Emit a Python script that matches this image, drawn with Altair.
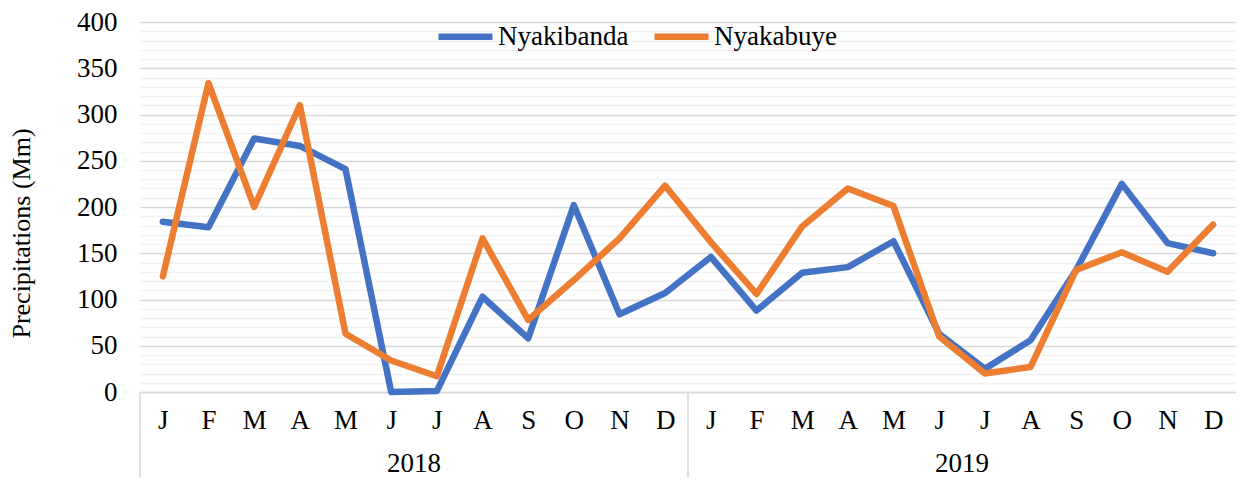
import json
import altair as alt
import pandas as pd

MONTHS = ["J", "F", "M", "A", "M", "J", "J", "A", "S", "O", "N", "D"]
YEARS = ["2018", "2019"]
SERIES = ["Nyakibanda", "Nyakabuye"]
COLORS = ["#4472C4", "#ED7D31"]

nyakibanda = [184, 178, 274, 266, 241, 0, 1, 103, 58, 202, 84, 107,
              146, 88, 129, 135, 163, 63, 25, 56, 132, 225, 161, 150]
nyakabuye = [125, 334, 200, 310, 63, 34, 17, 166, 78, 121, 166, 223,
             162, 106, 179, 220, 201, 60, 20, 27, 132, 151, 130, 181]

rows = []
for s, vals in zip(SERIES, [nyakibanda, nyakabuye]):
    for i, v in enumerate(vals):
        rows.append({"idx": i, "month": MONTHS[i % 12], "year": YEARS[i // 12],
                     "station": s, "value": v})
df = pd.DataFrame(rows)

month_of_idx = [MONTHS[i % 12] for i in range(len(nyakibanda))]
years_df = (df[df.station == SERIES[0]].groupby("year")["idx"]
            .agg(["min", "mean"]).reset_index())
years_df["left"] = years_df["min"] - 0.5

FONT = "Liberation Serif"
FS = 27
W, H = 1096, 370
PAD = {"left": 132, "top": 14, "right": 0, "bottom": 86}

xscale = alt.Scale(domain=[-0.5, len(nyakibanda) - 0.5], nice=False, zero=False)
yscale = alt.Scale(domain=[0, 400], nice=False)

lines = alt.Chart(df).mark_line(strokeWidth=6.5, strokeCap="round", strokeJoin="round").encode(
    x=alt.X("idx:Q", scale=xscale, title=None,
            axis=alt.Axis(values=list(range(len(nyakibanda))),
                          labelExpr=f"{json.dumps(month_of_idx)}[datum.value]",
                          grid=False, ticks=False, domain=True,
                          domainColor="#D9D9D9", domainWidth=1.5,
                          labelPadding=15, labelOverlap=False, labelFlush=False)),
    y=alt.Y("value:Q", scale=yscale,
            axis=alt.Axis(values=list(range(0, 401, 10)),
                          labelExpr="datum.value % 50 === 0 ? datum.label : ''",
                          gridColor=alt.condition("datum.value % 50 === 0",
                                                  alt.value("#D9D9D9"), alt.value("#F2F2F2")),
                          gridWidth=1.5, ticks=False, domain=False,
                          labelPadding=23, labelOverlap=False, labelFlush=False,
                          title="Precipitations (Mm)", titlePadding=42, titleY=211)),
    color=alt.Color("station:N", scale=alt.Scale(domain=SERIES, range=COLORS),
                    legend=alt.Legend(title=None, orient="none", direction="horizontal",
                                      legendX=295, legendY=-16, symbolType="stroke",
                                      symbolStrokeWidth=6.5, symbolSize=2916,
                                      labelOffset=2, columnPadding=12, padding=0)),
    order=alt.Order("idx:Q"),
)

seps = alt.Chart(years_df).mark_rule(color="#D9D9D9", strokeWidth=1.5).encode(
    x=alt.X("left:Q", scale=xscale),
    y=alt.value(H),
    y2=alt.value(H + 86),
)

year_text = alt.Chart(years_df).mark_text(font=FONT, fontSize=FS, color="#000000",
                                          baseline="middle").encode(
    x=alt.X("mean:Q", scale=xscale),
    y=alt.value(H + 72),
    text="year:N",
)

chart = alt.layer(lines, seps, year_text).properties(
    width=W, height=H, background="white",
    autosize=alt.AutoSizeParams(type="none"), padding=PAD,
).configure(font=FONT).configure_view(stroke=None).configure_axis(
    labelFont=FONT, labelFontSize=FS, labelColor="#000000",
    titleFont=FONT, titleFontSize=26, titleFontWeight="normal", titleColor="#000000",
).configure_legend(
    labelFont=FONT, labelFontSize=FS, labelColor="#000000",
)

chart.save("out.html", embed_options={"renderer": "svg", "actions": False})
